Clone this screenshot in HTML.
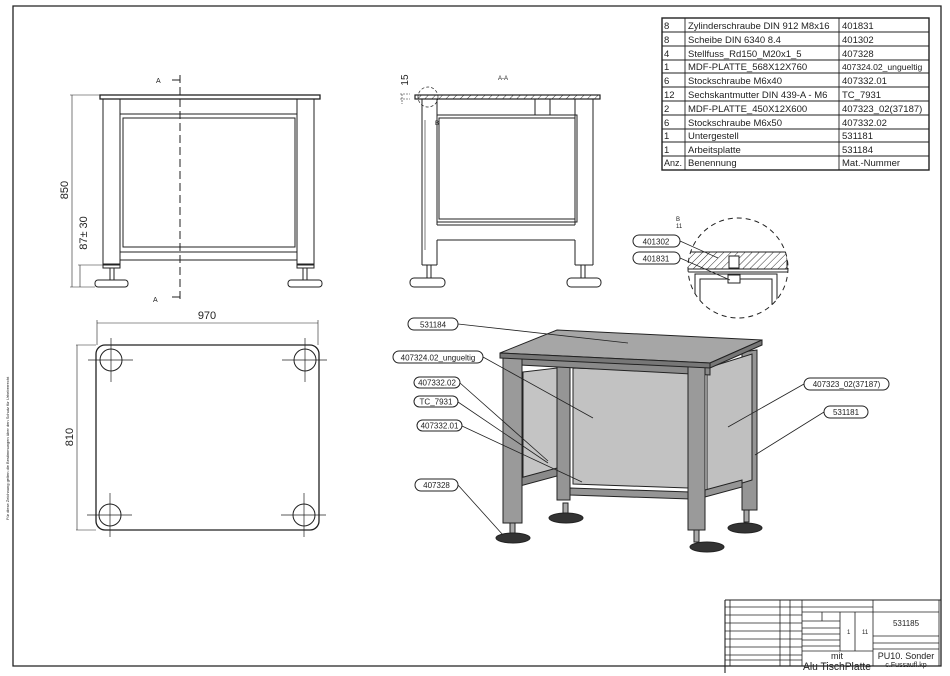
<!DOCTYPE html>
<html><head><meta charset="utf-8"><style>
html,body{margin:0;padding:0;background:#fff;}
svg{display:block;}
text{font-family:"Liberation Sans",sans-serif;fill:#222;}
.t{font-size:9.5px;}
</style></head><body>
<svg width="950" height="676" viewBox="0 0 950 676" xmlns="http://www.w3.org/2000/svg">
<defs>
<pattern id="h" width="5" height="5" patternUnits="userSpaceOnUse" patternTransform="rotate(45)"><line x1="0" y1="0" x2="0" y2="5" stroke="#333" stroke-width="1"/></pattern>
<clipPath id="cc"><circle cx="738" cy="268" r="50"/></clipPath>
</defs>
<g fill="none" stroke="#222" stroke-width="1">
<path d="M13 6 H941 V666 H13 Z" stroke-width="1.3"/>
<text x="9" y="520" transform="rotate(-90 9 520)" font-size="4" fill="#555" stroke="none">Für diese Zeichnung gelten die Bestimmungen über den Schutz für Urheberrecht</text>
<rect x="662" y="18" width="267" height="152" stroke-width="1.4"/>
<g stroke-width="0.9">
<line x1="662" y1="32" x2="929" y2="32"/><line x1="662" y1="46" x2="929" y2="46"/><line x1="662" y1="60" x2="929" y2="60"/>
<line x1="662" y1="73" x2="929" y2="73"/><line x1="662" y1="87" x2="929" y2="87"/><line x1="662" y1="101" x2="929" y2="101"/>
<line x1="662" y1="115" x2="929" y2="115"/><line x1="662" y1="129" x2="929" y2="129"/><line x1="662" y1="142" x2="929" y2="142"/>
<line x1="662" y1="156" x2="929" y2="156"/>
<line x1="685" y1="18" x2="685" y2="170"/><line x1="839" y1="18" x2="839" y2="170"/>
</g>
</g>
<g class="t">
<text x="664" y="29">8</text><text x="688" y="29">Zylinderschraube DIN 912 M8x16</text><text x="842" y="29">401831</text>
<text x="664" y="43">8</text><text x="688" y="43">Scheibe DIN 6340 8.4</text><text x="842" y="43">401302</text>
<text x="664" y="57">4</text><text x="688" y="57">Stellfuss_Rd150_M20x1_5</text><text x="842" y="57">407328</text>
<text x="664" y="70">1</text><text x="688" y="70">MDF-PLATTE_568X12X760</text><text x="842" y="70" font-size="8.6">407324.02_ungueltig</text>
<text x="664" y="84">6</text><text x="688" y="84">Stockschraube M6x40</text><text x="842" y="84">407332.01</text>
<text x="664" y="98">12</text><text x="688" y="98">Sechskantmutter DIN 439-A - M6</text><text x="842" y="98">TC_7931</text>
<text x="664" y="112">2</text><text x="688" y="112">MDF-PLATTE_450X12X600</text><text x="842" y="112">407323_02(37187)</text>
<text x="664" y="126">6</text><text x="688" y="126">Stockschraube M6x50</text><text x="842" y="126">407332.02</text>
<text x="664" y="139">1</text><text x="688" y="139">Untergestell</text><text x="842" y="139">531181</text>
<text x="664" y="153">1</text><text x="688" y="153">Arbeitsplatte</text><text x="842" y="153">531184</text>
<text x="664" y="166" font-size="9">Anz.</text><text x="688" y="166">Benennung</text><text x="842" y="166">Mat.-Nummer</text>
</g>

<g fill="none" stroke="#222" stroke-width="1">
<rect x="100" y="95" width="220" height="4" stroke-width="1.3"/>
<rect x="103" y="99" width="17" height="166"/>
<rect x="297" y="99" width="17" height="166"/>
<rect x="120" y="114" width="177" height="138"/>
<rect x="123" y="118" width="172" height="129"/>
<line x1="120" y1="260" x2="297" y2="260"/>
<rect x="103" y="264" width="17" height="4"/><rect x="297" y="264" width="17" height="4"/>
<line x1="110" y1="268" x2="110" y2="280"/><line x1="114" y1="268" x2="114" y2="280"/>
<line x1="303" y1="268" x2="303" y2="280"/><line x1="307" y1="268" x2="307" y2="280"/>
<rect x="95" y="280" width="33" height="7" rx="3"/><rect x="288" y="280" width="34" height="7" rx="3"/>
<line x1="180" y1="75" x2="180" y2="302" stroke-dasharray="8,4"/>
<line x1="172" y1="80" x2="180" y2="80"/><line x1="172" y1="297" x2="180" y2="297"/>
<line x1="70" y1="95" x2="100" y2="95" stroke-width="0.6"/><line x1="72" y1="95" x2="72" y2="287" stroke-width="0.6"/>
<line x1="70" y1="287" x2="95" y2="287" stroke-width="0.6"/>
<line x1="80" y1="265" x2="80" y2="287" stroke-width="0.6"/><line x1="78" y1="265" x2="103" y2="265" stroke-width="0.6"/>
</g>
<text x="156" y="83" font-size="7">A</text><text x="153" y="302" font-size="7">A</text>
<text x="68" y="190" font-size="11" transform="rotate(-90 68 190)" text-anchor="middle">850</text>
<text x="87" y="233" font-size="11" transform="rotate(-90 87 233)" text-anchor="middle">87± 30</text>

<g fill="none" stroke="#222" stroke-width="1">
<rect x="96" y="345" width="223" height="185" rx="9" stroke-width="1.3"/>
<circle cx="111" cy="360" r="11"/><circle cx="305" cy="360" r="11"/><circle cx="110" cy="515" r="11"/><circle cx="304" cy="515" r="11"/>
<path d="M88 360 H133 M111 338 V382 M282 360 H327 M305 338 V382 M87 515 H132 M110 493 V537 M281 515 H326 M304 493 V537" stroke-width="0.7"/>
<path d="M97 345 V320 M318 345 V320 M97 323 H318 M76 345 H96 M76 530 H96 M77 345 V530" stroke-width="0.6"/>
</g>
<text x="207" y="319" font-size="11" text-anchor="middle">970</text>
<text x="73" y="437" font-size="11" transform="rotate(-90 73 437)" text-anchor="middle">810</text>

<g fill="none" stroke="#222" stroke-width="1">
<rect x="415" y="95" width="185" height="4" fill="url(#h)" stroke-width="1.2"/>
<path d="M422 99 V265 M437 99 V225 M437 240 V265 M422 265 H437"/>
<line x1="425" y1="120" x2="425" y2="250" stroke-width="0.6"/>
<path d="M575 99 V225 M575 240 V265 M593 99 V265 M575 265 H593"/>
<line x1="437" y1="225" x2="575" y2="225"/><line x1="437" y1="240" x2="575" y2="240"/>
<rect x="437" y="115" width="140" height="107"/><rect x="439" y="118" width="136" height="101"/>
<rect x="535" y="99" width="15" height="16"/>
<circle cx="428" cy="97" r="10" stroke-dasharray="3,2" stroke-width="0.7"/>
<path d="M427 265 V278 M431 265 V278 M581 265 V278 M585 265 V278"/>
<rect x="410" y="278" width="35" height="9" rx="4"/><rect x="567" y="278" width="34" height="9" rx="4"/>
<path d="M402 94 V104 M400 94 H410 M400 99 H410" stroke-width="0.6" stroke-dasharray="2,1"/>
</g>
<text x="498" y="80" font-size="6">A-A</text>
<text x="435" y="125" font-size="6">B</text>
<text x="408" y="80" font-size="10" transform="rotate(-90 408 80)" text-anchor="middle">15</text>

<g fill="none" stroke="#222" stroke-width="1">
<circle cx="738" cy="268" r="50" stroke-dasharray="5,4"/>
<g clip-path="url(#cc)">
<rect x="687" y="252" width="100" height="17" fill="url(#h)"/>
<line x1="687" y1="272" x2="790" y2="272"/>
<path d="M695 320 V274 H777 V320 M700 320 V279 H772 V320"/>
<rect x="729" y="256" width="10" height="12" fill="#fff"/>
<rect x="728" y="275" width="12" height="8" fill="#fff"/>
</g>
<path d="M680 241 L718 258 M680 258 L730 280" stroke-width="0.7"/>
<rect x="633" y="235" width="47" height="12" rx="6"/><rect x="633" y="252" width="47" height="12" rx="6"/>
</g>
<text x="656" y="244.5" font-size="8" text-anchor="middle">401302</text>
<text x="656" y="261.5" font-size="8" text-anchor="middle">401831</text>
<text x="676" y="221" font-size="6">B</text><text x="676" y="228" font-size="6">11</text>

<g stroke="#222" stroke-width="1">
<polygon points="557,360 570,360 570,500 557,500" fill="#959595"/>
<polygon points="742,352 757,350 757,510 742,510" fill="#959595"/>
<polygon points="573,368 688,372 688,488 573,484" fill="#c2c2c2"/>
<polygon points="523,372 557,368 557,470 523,478" fill="#c4c4c4"/>
<polygon points="707,368 752,354 752,480 707,494" fill="#c0c0c0"/>
<polygon points="520,355 710,365 710,375 520,365" fill="#8a8a8a"/>
<polygon points="520,478 557,468 557,476 520,486" fill="#8a8a8a"/>
<polygon points="570,488 690,492 690,499 570,495" fill="#959595"/>
<polygon points="705,490 742,480 742,487 705,497" fill="#959595"/>
<polygon points="503,357 522,357 522,523 503,523" fill="#9a9a9a"/>
<polygon points="688,365 705,365 705,530 688,530" fill="#9a9a9a"/>
<polygon points="500,353 557,330 762,340 710,363" fill="#a6a6a6"/>
<polygon points="500,353 710,363 710,368 500,358" fill="#777"/>
<polygon points="710,363 762,340 762,345 710,368" fill="#777"/>
<rect x="510" y="523" width="5" height="10" fill="#aaa"/><rect x="563" y="503" width="5" height="10" fill="#aaa"/>
<rect x="694" y="530" width="5" height="12" fill="#aaa"/><rect x="744" y="510" width="5" height="12" fill="#aaa"/>
<ellipse cx="513" cy="538" rx="17" ry="5" fill="#333"/><ellipse cx="566" cy="518" rx="17" ry="5" fill="#333"/>
<ellipse cx="707" cy="547" rx="17" ry="5" fill="#333"/><ellipse cx="745" cy="528" rx="17" ry="5" fill="#333"/>
</g>
<g fill="none" stroke="#222" stroke-width="0.8">
<path d="M458 324 L628 343 M483 357 L593 418 M460 383 L548 461 M458 402 L548 463 M462 426 L582 482 M458 485 L503 535 M804 384 L728 427 M824 412 L755 455"/>
</g>
<g fill="#fff" stroke="#222" stroke-width="1">
<rect x="408" y="318" width="50" height="12" rx="6"/>
<rect x="393" y="351" width="90" height="12" rx="6"/>
<rect x="414" y="377" width="46" height="11" rx="5.5"/>
<rect x="414" y="396" width="44" height="11" rx="5.5"/>
<rect x="417" y="420" width="45" height="11" rx="5.5"/>
<rect x="415" y="479" width="43" height="12" rx="6"/>
<rect x="804" y="378" width="85" height="12" rx="6"/>
<rect x="824" y="406" width="44" height="12" rx="6"/>
</g>
<g font-size="8" text-anchor="middle">
<text x="433" y="327.5">531184</text><text x="438" y="360.5">407324.02_ungueltig</text>
<text x="437" y="385.5">407332.02</text><text x="436" y="404.5">TC_7931</text>
<text x="439.5" y="428.5">407332.01</text><text x="436.5" y="488">407328</text>
<text x="846.5" y="387">407323_02(37187)</text><text x="846" y="415">531181</text>
</g>

<g fill="none" stroke="#222" stroke-width="0.8">
<path d="M725 600 H941 M725 600 V673 M725 666 H941" stroke-width="1.1"/>
<path d="M730 600 V666 M780 600 V666 M790 600 V666 M802 600 V666 M873 600 V666 M939 600 V666"/>
<path d="M725 607 H873 M725 615 H802 M725 623 H802 M725 631 H802 M725 639 H802 M725 647 H802 M725 655 H802 M725 660 H802"/>
<path d="M802 612 H873 M802 621 H840 M802 628 H840 M802 634 H840 M802 640 H840 M802 646 H840 M802 651 H873 M840 612 V651 M855 612 V651 M822 612 V621"/>
<path d="M873 612 H939 M873 636 H939 M873 643 H939 M873 649 H939"/>
</g>
<text x="906" y="626" font-size="8" text-anchor="middle">531185</text>
<text x="837" y="659" font-size="9" text-anchor="middle">mit</text>
<text x="803" y="670" font-size="11" textLength="68" lengthAdjust="spacingAndGlyphs">Alu TischPlatte</text>
<text x="906" y="659" font-size="9" text-anchor="middle">PU10. Sonder</text>
<text x="906" y="667" font-size="7" text-anchor="middle">c.Fussaufl.kp</text>
<text x="847" y="634" font-size="6">1</text><text x="862" y="634" font-size="6">11</text>
</svg>
</body></html>
